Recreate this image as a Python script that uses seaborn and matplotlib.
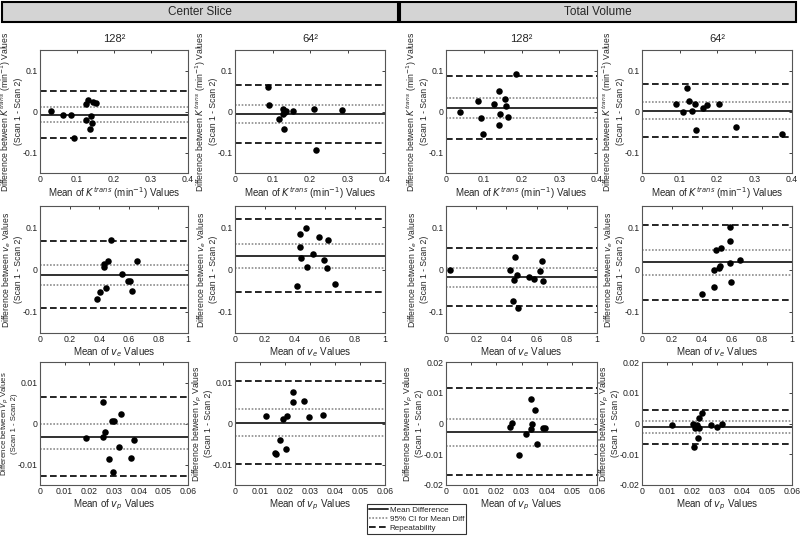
import matplotlib
matplotlib.use("Agg")
import matplotlib.pyplot as plt
from matplotlib.lines import Line2D
from matplotlib.patches import Rectangle
from matplotlib.ticker import FuncFormatter
import seaborn as sns
import pandas as pd

# ---- data ----
# lines = [mean diff, CI low, CI high, repeatability low, repeatability high]

# K-trans, center slice
cs128_ktrans_x = [0.029, 0.061, 0.085, 0.092, 0.125, 0.130, 0.123, 0.137, 0.134, 0.141, 0.144, 0.150]
cs128_ktrans_y = [0.002, -0.008, -0.009, -0.064, 0.019, 0.028, -0.021, -0.011, -0.043, -0.029, 0.023, 0.021]
cs128_ktrans_lines = [-0.008, -0.025, 0.010, -0.064, 0.050]

cs64_ktrans_x = [0.089, 0.090, 0.116, 0.127, 0.129, 0.133, 0.136, 0.131, 0.154, 0.210, 0.216, 0.284]
cs64_ktrans_y = [0.060, 0.016, -0.018, 0.007, -0.007, 0.000, 0.002, -0.043, 0.001, 0.007, -0.093, 0.004]
cs64_ktrans_lines = [-0.007, -0.029, 0.017, -0.076, 0.064]

# K-trans, total volume
tv128_ktrans_x = [0.036, 0.085, 0.094, 0.097, 0.128, 0.140, 0.140, 0.142, 0.155, 0.160, 0.164, 0.186]
tv128_ktrans_y = [-0.002, 0.025, -0.017, -0.055, 0.019, 0.051, -0.033, -0.006, 0.031, 0.014, -0.014, 0.091]
tv128_ktrans_lines = [0.008, -0.017, 0.033, -0.066, 0.086]

tv64_ktrans_x = [0.090, 0.108, 0.119, 0.124, 0.132, 0.140, 0.144, 0.162, 0.174, 0.206, 0.251, 0.373]
tv64_ktrans_y = [0.019, -0.002, 0.058, 0.026, 0.002, 0.018, -0.045, 0.008, 0.015, 0.019, -0.037, -0.056]
tv64_ktrans_lines = [0.002, -0.019, 0.023, -0.062, 0.066]

# v_e
cs128_ve_x = [0.382, 0.408, 0.435, 0.435, 0.449, 0.462, 0.478, 0.556, 0.594, 0.609, 0.620, 0.654]
cs128_ve_y = [-0.069, -0.053, 0.014, 0.006, -0.043, 0.020, 0.069, -0.011, -0.027, -0.028, -0.051, 0.020]
cs128_ve_lines = [-0.012, -0.037, 0.010, -0.091, 0.067]

cs64_ve_x = [0.413, 0.433, 0.433, 0.440, 0.471, 0.482, 0.522, 0.561, 0.590, 0.619, 0.612, 0.664]
cs64_ve_y = [-0.040, 0.084, 0.053, 0.028, 0.097, 0.006, 0.036, 0.077, 0.022, 0.069, 0.003, -0.035]
cs64_ve_lines = [0.033, 0.003, 0.061, -0.054, 0.120]

tv128_ve_x = [0.029, 0.426, 0.441, 0.453, 0.459, 0.468, 0.477, 0.547, 0.585, 0.620, 0.634, 0.642]
tv128_ve_y = [0.000, -0.001, -0.075, -0.024, 0.030, -0.014, -0.092, -0.017, -0.022, -0.004, 0.020, -0.027]
tv128_ve_lines = [-0.018, -0.041, 0.003, -0.087, 0.050]

tv64_ve_x = [0.400, 0.481, 0.481, 0.490, 0.524, 0.515, 0.517, 0.589, 0.589, 0.589, 0.593, 0.656]
tv64_ve_y = [-0.059, -0.042, -0.002, 0.047, 0.050, 0.004, 0.008, 0.100, 0.067, 0.016, -0.029, 0.023]
tv64_ve_lines = [0.017, -0.014, 0.045, -0.073, 0.106]

# v_p
cs128_vp_x = [0.0188, 0.0254, 0.0254, 0.0264, 0.0281, 0.0291, 0.0298, 0.0294, 0.0319, 0.0330, 0.0367, 0.0380]
cs128_vp_y = [-0.0036, -0.0032, 0.0052, -0.0020, -0.0086, 0.0007, 0.0006, -0.0118, -0.0058, 0.0022, -0.0084, -0.0041]
cs128_vp_lines = [-0.0032, -0.0063, -0.0002, -0.0129, 0.0065]

cs64_vp_x = [0.0124, 0.0192, 0.0207, 0.0178, 0.0158, 0.0165, 0.0202, 0.0233, 0.0233, 0.0276, 0.0295, 0.0350]
cs64_vp_y = [0.0018, 0.0011, 0.0019, -0.0040, -0.0071, -0.0075, -0.0061, 0.0076, 0.0053, 0.0056, 0.0016, 0.0021]
cs64_vp_lines = [0.0002, -0.0030, 0.0035, -0.0099, 0.0104]

tv128_vp_x = [0.0255, 0.0262, 0.0290, 0.0318, 0.0338, 0.0336, 0.0342, 0.0355, 0.0362, 0.0387, 0.0395]
tv128_vp_y = [-0.0010, 0.0003, -0.0102, -0.0034, 0.0080, -0.0017, -0.0003, 0.0044, -0.0068, -0.0014, -0.0016]
tv128_vp_lines = [-0.0028, -0.0074, 0.0016, -0.0168, 0.0115]

tv64_vp_x = [0.0119, 0.0202, 0.0211, 0.0209, 0.0220, 0.0222, 0.0227, 0.0229, 0.0240, 0.0277, 0.0301, 0.0321]
tv64_vp_y = [-0.0005, -0.0003, -0.0014, -0.0077, -0.0004, -0.0046, 0.0018, -0.0016, 0.0033, -0.0005, -0.0013, -0.0002]
tv64_vp_lines = [-0.0011, -0.0030, 0.0009, -0.0066, 0.0045]

group_titles = ["Center Slice", "Total Volume"]
col_titles = ["128\u00b2", "64\u00b2", "128\u00b2", "64\u00b2"]
ylabels = [
    "Difference between $K^{trans}$ (min$^{-1}$) Values\n(Scan 1 - Scan 2)",
    "Difference between $v_e$ Values\n(Scan 1 - Scan 2)",
    "Difference between $v_p$ Values\n(Scan 1 - Scan 2)",
]
xlabels = [
    "Mean of $K^{trans}$ (min$^{-1}$) Values",
    "Mean of $v_e$ Values",
    "Mean of $v_p$ Values",
]
legend_labels = ["Mean Difference", "95% CI for Mean Diff", "Repeatability"]

panels = [
    [(cs128_ktrans_x, cs128_ktrans_y, cs128_ktrans_lines), (cs64_ktrans_x, cs64_ktrans_y, cs64_ktrans_lines),
     (tv128_ktrans_x, tv128_ktrans_y, tv128_ktrans_lines), (tv64_ktrans_x, tv64_ktrans_y, tv64_ktrans_lines)],
    [(cs128_ve_x, cs128_ve_y, cs128_ve_lines), (cs64_ve_x, cs64_ve_y, cs64_ve_lines),
     (tv128_ve_x, tv128_ve_y, tv128_ve_lines), (tv64_ve_x, tv64_ve_y, tv64_ve_lines)],
    [(cs128_vp_x, cs128_vp_y, cs128_vp_lines), (cs64_vp_x, cs64_vp_y, cs64_vp_lines),
     (tv128_vp_x, tv128_vp_y, tv128_vp_lines), (tv64_vp_x, tv64_vp_y, tv64_vp_lines)],
]

# ---- styling ----
sns.set_theme(style="white")
plt.rcParams['font.family'] = ['Liberation Sans', 'DejaVu Sans']
plt.rcParams['mathtext.fontset'] = 'custom'
plt.rcParams['mathtext.rm'] = 'Liberation Sans Narrow'
plt.rcParams['mathtext.it'] = 'Liberation Sans Narrow:italic'

W, H = 800, 539


def px_box(l, t, r, b):
    return [l / W, 1 - b / H, (r - l) / W, (b - t) / H]


cols_px = [(40, 188), (235, 385), (446, 597), (642, 792)]
rows_px = [(50, 173), (206, 333), (362, 485)]
xlims = [(0, 0.4), (0, 1), (0, 0.06)]
xticks = [[0, 0.1, 0.2, 0.3, 0.4], [0, 0.2, 0.4, 0.6, 0.8, 1], [0, 0.01, 0.02, 0.03, 0.04, 0.05, 0.06]]
narrow = ['Liberation Sans Narrow', 'Liberation Sans', 'DejaVu Sans']

mean_style = dict(color='#303030', lw=1.4, ls='-')
ci_style = dict(color='#8c8c8c', lw=1.2, ls=(0, (1, 1)))
rep_style = dict(color='black', lw=1.2, ls=(0, (4, 2)))

fig = plt.figure(figsize=(8, 5.39), dpi=100)
fmt = FuncFormatter(lambda v, p: f"{v:g}")

for r in range(3):
    for c in range(4):
        x, y, lines = panels[r][c]
        ax = fig.add_axes(px_box(cols_px[c][0], rows_px[r][0], cols_px[c][1], rows_px[r][1]))
        ax.axhline(lines[0], zorder=1, **mean_style)
        ax.axhline(lines[1], zorder=1, **ci_style)
        ax.axhline(lines[2], zorder=1, **ci_style)
        ax.axhline(lines[3], zorder=1, **rep_style)
        ax.axhline(lines[4], zorder=1, **rep_style)
        df = pd.DataFrame({'x': x, 'y': y})
        sns.scatterplot(data=df, x='x', y='y', ax=ax, color='black', s=22,
                        linewidth=0, legend=False, zorder=3)
        ax.set_xlim(*xlims[r])
        ax.set_xticks(xticks[r])
        if r < 2:
            ax.set_ylim(-0.15, 0.15)
            ax.set_yticks([-0.1, 0, 0.1])
        elif c < 2:
            ax.set_ylim(-0.015, 0.015)
            ax.set_yticks([-0.01, 0, 0.01])
        else:
            ax.set_ylim(-0.02, 0.02)
            ax.set_yticks([-0.02, -0.01, 0, 0.01, 0.02])
        ax.xaxis.set_major_formatter(fmt)
        ax.yaxis.set_major_formatter(fmt)
        ax.tick_params(direction='in', top=True, right=True, length=2.5, width=0.6,
                       labelsize=6.3, pad=1.5, colors='#222222')
        for sp in ax.spines.values():
            sp.set_color('#555555')
            sp.set_linewidth(0.8)
        ax.set_xlabel(xlabels[r], fontsize=7, labelpad=1, family=narrow)
        if r == 2 and c == 0:
            # left-most label has wide tick labels next to it: keep it inside the figure
            ax.set_ylabel(ylabels[r], fontsize=5.6, linespacing=1.0, family=narrow)
            ax.yaxis.set_label_coords(-0.152, 0.5)
        else:
            ax.set_ylabel(ylabels[r], fontsize=6.2, labelpad=0, linespacing=1.05, family=narrow)
        if r == 0:
            ax.set_title(col_titles[c], fontsize=8, pad=6)

# group header boxes
for i, title in enumerate(group_titles):
    l = 2 + i * 398
    rect = Rectangle((l / W, 1 - 22 / H), 396 / W, 20 / H, transform=fig.transFigure,
                     facecolor='#d4d4d4', edgecolor='black', lw=1.5)
    fig.patches.append(rect)
    fig.text((l + 198) / W, 1 - 12 / H, title, ha='center', va='center', fontsize=8.5)

handles = [Line2D([], [], **mean_style), Line2D([], [], **ci_style), Line2D([], [], **rep_style)]
leg = fig.legend(handles, legend_labels, loc='upper left', bbox_to_anchor=(367 / W, 1 - 504 / H),
                 frameon=True, fancybox=False, handlelength=2.3, handletextpad=0.2,
                 borderpad=0.3, labelspacing=0.15, borderaxespad=0, prop={'family': narrow, 'size': 5.8})
leg.get_frame().set_edgecolor('black')
leg.get_frame().set_linewidth(0.8)

fig.savefig("out.png", dpi=100)
